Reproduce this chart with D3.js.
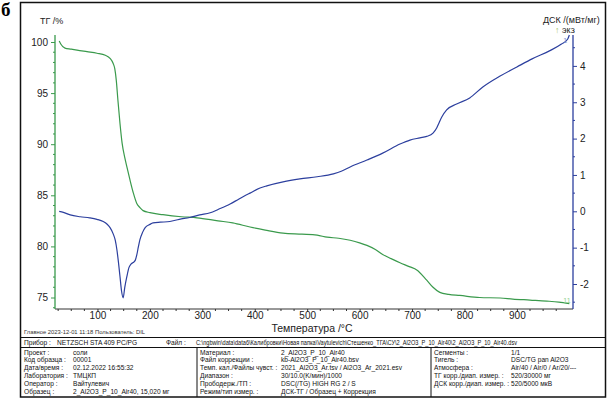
<!DOCTYPE html>
<html><head><meta charset="utf-8">
<script src="https://cdn.jsdelivr.net/npm/d3@7"></script>
<style>
html,body{margin:0;padding:0;background:#fff;}
svg{display:block;font-family:"Liberation Sans",Arial,sans-serif;}
</style></head>
<body><svg id="c" width="608" height="398"></svg>
<script>
// ---- data ----
const tgTemp = [27,30,38,50,61,80,99,115,124,130,133,136,139,143,147,152,156,162,168,175,181,187,200,225,260,290,330,358,391,420,454,490,519,538,560,582,600,614,630,644,660,677,696,709,728,740,753,770,791,829,868,892,925,957,980,1000];
const tgValue = [100.1,99.8,99.4,99.3,99.2,99.05,98.9,98.7,98.4,97.9,97.4,96.2,94.3,92.0,90.1,88.7,87.8,86.5,85.3,84.2,83.8,83.5,83.3,83.1,82.9,82.8,82.5,82.3,81.9,81.6,81.3,81.2,81.1,80.9,80.8,80.6,80.35,80.1,79.7,79.2,78.8,78.4,78.0,77.7,76.7,76.0,75.5,75.3,75.2,75.0,74.95,74.85,74.75,74.65,74.55,74.4];
const dscTemp = [27,35,48,67,85,99,111,118,124,130,134,137,140,143,146,149,152,156,160,164,168,172,175,178,181,186,191,200,206,220,238,256,276,295,315,330,353,370,391,410,423,454,486,519,550,565,582,614,644,677,696,715,728,740,747,752,757,766,785,810,835,868,900,930,963,985,997,1000];
const dscValue = [0.0,-0.03,-0.1,-0.15,-0.18,-0.22,-0.28,-0.35,-0.45,-0.62,-0.8,-1.05,-1.4,-1.8,-2.2,-2.38,-2.1,-1.8,-1.55,-1.45,-1.41,-1.35,-1.2,-0.98,-0.78,-0.58,-0.45,-0.36,-0.32,-0.3,-0.28,-0.22,-0.17,-0.1,-0.04,0.05,0.2,0.34,0.5,0.64,0.7,0.81,0.89,0.95,1.03,1.1,1.22,1.41,1.6,1.85,1.96,2.02,2.06,2.15,2.29,2.45,2.6,2.79,2.95,3.12,3.42,3.72,3.97,4.2,4.42,4.6,4.74,4.85];
const xTicks = [100,200,300,400,500,600,700,800,900];
const tgTicks = [75,80,85,90,95,100];
const dscTicks = [-2,-1,0,1,2,3,4];

const footerTop = "Главное    2023-12-01 11:18    Пользователь: DIL";
const instrLabel = "Прибор :", instrValue = "NETZSCH STA 409 PC/PG", fileLabel = "Файл :";
const fileValue = "C:\\ngbwin\\data\\data6\\Калибровки\\Новая папка\\Vaytulevich\\Стешенко_ТГА\\СУ\\2_Al2O3_P_10_Air40\\2_Al2O3_P_10_Air40.dsv";
const col1Labels = ["Проект :","Код образца :","Дата/время :","Лаборатория :","Оператор :","Образец :"];
const col1Values = ["соли","00001","02.12.2022 16:55:32","ТМЦКП","Вайтулевич","2_Al2O3_P_10_Air40, 15,020 мг"];
const col2Labels = ["Материал :","Файл коррекции :","Темп. кал./Файлы чувст. :","Диапазон :","Прободерж./ТП :","Режим/тип измер. :"];
const col2Values = ["2_Al2O3_P_10_Air40","kb-Al2O3_P_10_Air40.bsv","2021_Al2O3_Ar.tsv / Al2O3_Ar_2021.esv","30/10.0(K/мин)/1000","DSC(/TG) HIGH RG 2 / S","ДСК-ТГ / Образец + Коррекция"];
const col3Labels = ["Сегменты :","Тигель :","Атмосфера :","ТГ корр./диап. измер. :","ДСК корр./диап. измер. :"];
const col3Values = ["1/1","DSC/TG pan Al2O3","Air/40 / Air/0 / Ar/20/---","520/30000 мг","520/5000 мкВ"];

// ---- drawing ----
const svg = d3.select("#c");
const GREEN = "#3a9a4c", BLUE = "#2c3f9e", TXT = "#222";
const plotTop = 35, plotBot = 309, plotL = 55, plotR = 573;
const x = d3.scaleLinear().domain([19, 1007]).range([plotL, plotR]);
const yTG = d3.scaleLinear().domain([75, 100]).range([297.5, 42]);
const yDSC = d3.scaleLinear().domain([-2, 4]).range([284, 65.9]);
const fmt = d => String(d);

svg.append("rect").attr("width",608).attr("height",398).attr("fill","#fff");
// outer frame
svg.append("rect").attr("x",20.5).attr("y",2.5).attr("width",585).attr("height",394.5)
  .attr("fill","none").attr("stroke","#111").attr("stroke-width",1.5);
svg.append("text").attr("x",1).attr("y",16).attr("font-family","Liberation Serif, serif")
  .attr("font-weight","bold").attr("font-size",19).attr("fill","#000").text("б");

// x axis
const xAxis = d3.axisBottom(x).tickValues(xTicks).tickFormat(fmt).tickSize(3).tickPadding(0);
const gx = svg.append("g").attr("transform",`translate(0,${plotBot})`).call(xAxis);
gx.select(".domain").remove();
gx.selectAll("line").attr("stroke","#333");
gx.selectAll("text").attr("font-size",10).attr("fill",TXT);
const xMinor = d3.range(25, 1001, 25).filter(v => v % 100 !== 0);
svg.append("g").selectAll("line").data(xMinor).join("line")
  .attr("x1",d=>x(d)).attr("x2",d=>x(d)).attr("y1",plotBot).attr("y2",plotBot+2).attr("stroke","#333");
svg.append("line").attr("x1",plotL).attr("x2",plotR).attr("y1",plotBot).attr("y2",plotBot).attr("stroke","#333");
svg.append("text").attr("x",312).attr("y",332).attr("text-anchor","middle").attr("font-size",10.5)
  .attr("fill",TXT).text("Температура /°C");

// left TG axis
const gl = svg.append("g").attr("transform",`translate(${plotL},0)`)
  .call(d3.axisLeft(yTG).tickValues(tgTicks).tickFormat(fmt).tickSize(4).tickPadding(3));
gl.select(".domain").remove();
gl.selectAll("line").attr("stroke",GREEN);
gl.selectAll("text").attr("font-size",10).attr("fill",TXT);
const tgMinor = d3.range(74, 101, 1).filter(v => v % 5 !== 0 && yTG(v) <= plotBot && yTG(v) >= plotTop);
svg.append("g").selectAll("line").data(tgMinor).join("line")
  .attr("x1",plotL-2).attr("x2",plotL).attr("y1",d=>yTG(d)).attr("y2",d=>yTG(d)).attr("stroke",GREEN);
svg.append("line").attr("x1",plotL).attr("x2",plotL).attr("y1",plotTop).attr("y2",plotBot)
  .attr("stroke",GREEN).attr("stroke-width",1.3);
svg.append("text").attr("x",40).attr("y",24).attr("font-size",9).attr("fill",TXT).text("ТГ /%");

// right DSC axis
const gr = svg.append("g").attr("transform",`translate(${plotR},0)`)
  .call(d3.axisRight(yDSC).tickValues(dscTicks).tickFormat(fmt).tickSize(4).tickPadding(3));
gr.select(".domain").remove();
gr.selectAll("line").attr("stroke",BLUE);
gr.selectAll("text").attr("font-size",10).attr("fill",TXT);
const dscMinor = d3.range(-2.5, 5, 0.5).filter(v => Math.abs(v % 1) > 0.1 && yDSC(v) <= plotBot && yDSC(v) >= plotTop);
svg.append("g").selectAll("line").data(dscMinor).join("line")
  .attr("x1",plotR).attr("x2",plotR+2).attr("y1",d=>yDSC(d)).attr("y2",d=>yDSC(d)).attr("stroke",BLUE);
svg.append("line").attr("x1",plotR).attr("x2",plotR).attr("y1",plotTop).attr("y2",plotBot)
  .attr("stroke",BLUE).attr("stroke-width",1.3);
svg.append("text").attr("x",543).attr("y",23).attr("font-size",9).attr("fill",TXT).text("ДСК /(мВт/мг)");
svg.append("text").attr("x",555).attr("y",33).attr("font-size",9).attr("fill","#a9c46a").text("↑");
svg.append("text").attr("x",562).attr("y",33).attr("font-size",9).attr("fill",TXT).text("экз");

// curves
const tgData = tgTemp.map((t,i)=>[t,tgValue[i]]);
const dscData = dscTemp.map((t,i)=>[t,dscValue[i]]);
svg.append("path").datum(tgData).attr("fill","none").attr("stroke",GREEN).attr("stroke-width",1.2)
  .attr("d", d3.line().x(d=>x(d[0])).y(d=>yTG(d[1])).curve(d3.curveMonotoneX));
svg.append("path").datum(dscData).attr("fill","none").attr("stroke",BLUE).attr("stroke-width",1.2)
  .attr("d", d3.line().x(d=>x(d[0])).y(d=>yDSC(d[1])).curve(d3.curveMonotoneX));
// segment end markers
svg.append("text").attr("x",x(1000)-6).attr("y",yTG(74.4)-1).attr("font-size",7).attr("fill","#8fcf8f").text("11");
svg.append("text").attr("x",x(1000)-6).attr("y",yDSC(4.85)+8).attr("font-size",7).attr("fill","#7f8fcf").text("1");

// footer
const fs = 6.6;
function txt(xp, yp, s, opts={}) {
  const t = svg.append("text").attr("x",xp).attr("y",yp).attr("font-size",opts.size||fs)
    .attr("fill",opts.fill||"#111").text(s);
  if (opts.len) t.attr("textLength",opts.len).attr("lengthAdjust","spacingAndGlyphs");
  return t;
}
txt(24, 334, footerTop, {size:5.8, fill:"#333", len:121});
svg.append("line").attr("x1",20.5).attr("x2",605.5).attr("y1",337.5).attr("y2",337.5).attr("stroke","#111").attr("stroke-width",1);
txt(24, 344.5, instrLabel);
txt(57, 344.5, instrValue);
txt(166, 344.5, fileLabel);
txt(196, 344.5, fileValue, {size:6.4, len:321});
svg.append("line").attr("x1",20.5).attr("x2",605.5).attr("y1",347.5).attr("y2",347.5).attr("stroke","#111").attr("stroke-width",1);
svg.append("line").attr("x1",197).attr("x2",197).attr("y1",347.5).attr("y2",397).attr("stroke","#111");
svg.append("line").attr("x1",431).attr("x2",431).attr("y1",347.5).attr("y2",397).attr("stroke","#111");
const rowY = i => 354.5 + i*7.8;
col1Labels.forEach((s,i)=>{ txt(24,rowY(i),s); txt(73,rowY(i),col1Values[i]); });
col2Labels.forEach((s,i)=>{ txt(200,rowY(i),s); txt(281,rowY(i),col2Values[i]); });
col3Labels.forEach((s,i)=>{ txt(434,rowY(i),s); txt(511,rowY(i),col3Values[i]); });
</script></body></html>
